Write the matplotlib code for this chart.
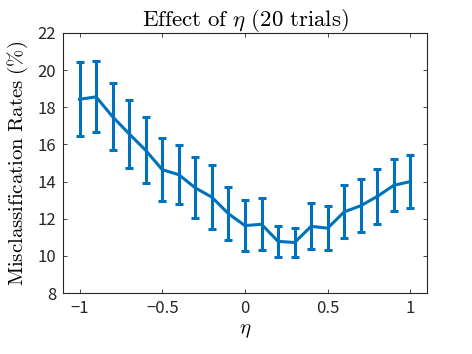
import numpy as np
import matplotlib
matplotlib.use('Agg')
import matplotlib.pyplot as plt

# eta values and misclassification rates
eta = [-1.0, -0.9, -0.8, -0.7, -0.6, -0.5, -0.4, -0.3, -0.2, -0.1, 0.0,
       0.1, 0.2, 0.3, 0.4, 0.5, 0.6, 0.7, 0.8, 0.9, 1.0]
rate_mean = [18.43, 18.56, 17.49, 16.57, 15.68, 14.64, 14.37, 13.66, 13.16, 12.27, 11.63,
             11.70, 10.78, 10.72, 11.59, 11.49, 12.37, 12.70, 13.20, 13.80, 14.00]
rate_err = [1.99, 1.91, 1.80, 1.84, 1.78, 1.70, 1.60, 1.64, 1.73, 1.43, 1.37,
            1.40, 0.82, 0.76, 1.24, 1.19, 1.43, 1.43, 1.46, 1.40, 1.43]
xticks = [-1, -0.5, 0, 0.5, 1]
xtick_labels = ['\u22121', '\u22120.5', '0', '0.5', '1']
yticks = [8, 10, 12, 14, 16, 18, 20, 22]

plt.rcParams['mathtext.fontset'] = 'cm'
plt.rcParams['font.family'] = ['Noto Sans CJK JP', 'DejaVu Sans']

blue = '#0072BD'
fig = plt.figure(figsize=(4.72, 3.54), dpi=100)
ax = fig.add_axes([0.1335, 0.1723, 0.771, 0.7345])

ax.errorbar(eta, rate_mean, yerr=rate_err, color=blue, lw=2.2,
            elinewidth=2.2, capsize=3.2, capthick=2.2)

ax.set_xlim(-1.1, 1.1)
ax.set_ylim(8, 22)
ax.set_xticks(xticks)
ax.set_xticklabels(xtick_labels)
ax.set_yticks(yticks)
ax.tick_params(direction='in', top=True, right=True, length=3, width=0.6,
               labelsize=12, colors='#262626', pad=5)
for s in ax.spines.values():
    s.set_linewidth(0.8)
    s.set_color('#262626')

ax.set_title(r'$\mathrm{Effect\ of\ }\eta\mathrm{\ (20\ trials)}$', fontsize=16.5, pad=5)
ax.set_xlabel(r'$\eta$', fontsize=15, labelpad=1)
ax.set_ylabel(r'$\mathrm{Misclassification\ Rates\ (\%)}$', fontsize=15, labelpad=5)

fig.savefig('out.png', dpi=100)
